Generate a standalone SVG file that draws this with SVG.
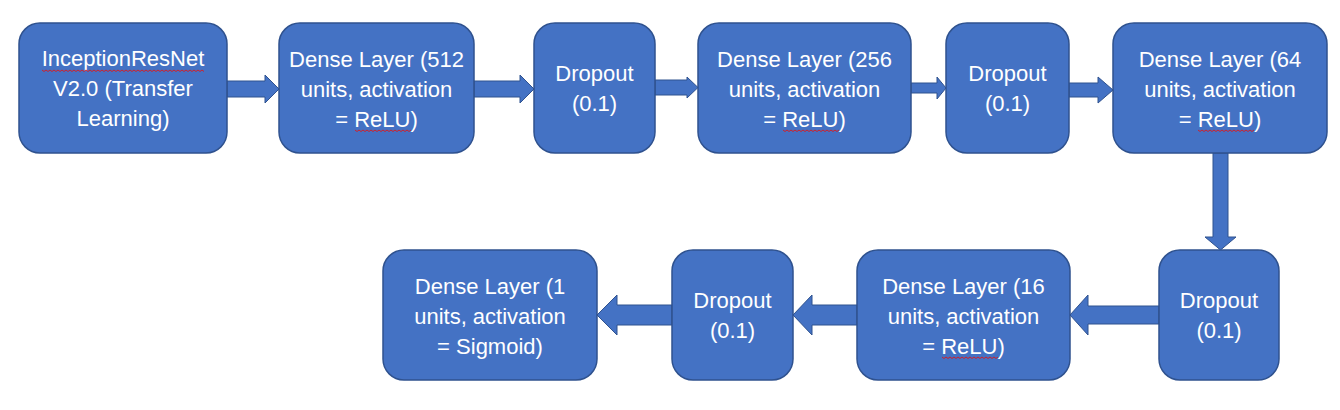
<svg xmlns="http://www.w3.org/2000/svg" width="1340" height="410" viewBox="0 0 1340 410">
  <defs>
    <style>
      .box { fill: #4472C4; stroke: #2F528F; stroke-width: 1.5; }
      .arrow { fill: #4472C4; stroke: #2F528F; stroke-width: 1; }
      .lbl { fill: #FFFFFF; font-family: "Liberation Sans", Arial, sans-serif; font-size: 22px; text-anchor: middle; }
      .sq { fill: none; stroke: #D0202A; stroke-width: 1; }
    </style>
  </defs>
  <rect width="1340" height="410" fill="#FFFFFF"/>

  <g id="connectors">
    <polygon class="arrow" points="227,81 265,81 265,75 279,89 265,103 265,97 227,97"/>
    <polygon class="arrow" points="474,81 520,81 520,75 534,89 520,103 520,97 474,97"/>
    <polygon class="arrow" points="655,80 687,80 687,77 698,87.5 687,98 687,95 655,95"/>
    <polygon class="arrow" points="911,83 937,83 937,77 946,88 937,99 937,93 911,93"/>
    <polygon class="arrow" points="1069,83 1098,83 1098,77 1113,90 1098,103 1098,97 1069,97"/>
    <polygon class="arrow" points="1213,153 1228,153 1228,237 1236,237 1220.5,250 1205,237 1213,237"/>
    <polygon class="arrow" points="1159,306 1088,306 1088,295 1070,315 1088,335 1088,324 1159,324"/>
    <polygon class="arrow" points="857,305 812,305 812,295 793,315 812,335 812,325 857,325"/>
    <polygon class="arrow" points="672,305 617,305 617,295 597,315 617,335 617,325 672,325"/>
  </g>

  <g id="n1">
    <rect class="box" x="19" y="23" width="208" height="130" rx="21"/>
    <text class="lbl" x="123" y="66">InceptionResNet</text>
    <text class="lbl" x="123" y="96">V2.0 (Transfer</text>
    <text class="lbl" x="123" y="126">Learning)</text>
    <path class="sq" d="M42,70 l2,1.5 l2,-1.5 l2,1.5 l2,-1.5 l2,1.5 l2,-1.5 l2,1.5 l2,-1.5 l2,1.5 l2,-1.5 l2,1.5 l2,-1.5 l2,1.5 l2,-1.5 l2,1.5 l2,-1.5 l2,1.5 l2,-1.5 l2,1.5 l2,-1.5 l2,1.5 l2,-1.5 l2,1.5 l2,-1.5 l2,1.5 l2,-1.5 l2,1.5 l2,-1.5 l2,1.5 l2,-1.5 l2,1.5 l2,-1.5 l2,1.5 l2,-1.5 l2,1.5 l2,-1.5 l2,1.5 l2,-1.5 l2,1.5 l2,-1.5 l2,1.5 l2,-1.5 l2,1.5 l2,-1.5 l2,1.5 l2,-1.5 l2,1.5 l2,-1.5 l2,1.5 l2,-1.5 l2,1.5 l2,-1.5 l2,1.5 l2,-1.5 l2,1.5 l2,-1.5 l2,1.5 l2,-1.5 l2,1.5 l2,-1.5 l2,1.5 l2,-1.5 l2,1.5 l2,-1.5 l2,1.5 l2,-1.5 l2,1.5 l2,-1.5 l2,1.5 l2,-1.5 l2,1.5 l2,-1.5 l2,1.5 l2,-1.5 l2,1.5 l2,-1.5 l2,1.5 l2,-1.5 l2,1.5 l2,-1.5 l2,1.5"/>
  </g>

  <g id="n2">
    <rect class="box" x="279" y="23" width="195" height="130" rx="21"/>
    <text class="lbl" x="376.5" y="67">Dense Layer (512</text>
    <text class="lbl" x="376.5" y="97">units, activation</text>
    <text class="lbl" x="376.5" y="127">= ReLU)</text>
    <path class="sq" d="M355,130 l2,1.5 l2,-1.5 l2,1.5 l2,-1.5 l2,1.5 l2,-1.5 l2,1.5 l2,-1.5 l2,1.5 l2,-1.5 l2,1.5 l2,-1.5 l2,1.5 l2,-1.5 l2,1.5 l2,-1.5 l2,1.5 l2,-1.5 l2,1.5 l2,-1.5 l2,1.5 l2,-1.5 l2,1.5 l2,-1.5 l2,1.5 l2,-1.5 l2,1.5 l2,-1.5"/>
  </g>

  <g id="n3">
    <rect class="box" x="534" y="23" width="121" height="130" rx="21"/>
    <text class="lbl" x="594.5" y="81">Dropout</text>
    <text class="lbl" x="594.5" y="111">(0.1)</text>
  </g>

  <g id="n4">
    <rect class="box" x="698" y="23" width="213" height="130" rx="21"/>
    <text class="lbl" x="804.5" y="67">Dense Layer (256</text>
    <text class="lbl" x="804.5" y="97">units, activation</text>
    <text class="lbl" x="804.5" y="127">= ReLU)</text>
    <path class="sq" d="M783,130 l2,1.5 l2,-1.5 l2,1.5 l2,-1.5 l2,1.5 l2,-1.5 l2,1.5 l2,-1.5 l2,1.5 l2,-1.5 l2,1.5 l2,-1.5 l2,1.5 l2,-1.5 l2,1.5 l2,-1.5 l2,1.5 l2,-1.5 l2,1.5 l2,-1.5 l2,1.5 l2,-1.5 l2,1.5 l2,-1.5 l2,1.5 l2,-1.5 l2,1.5 l2,-1.5"/>
  </g>

  <g id="n5">
    <rect class="box" x="946" y="23" width="123" height="130" rx="21"/>
    <text class="lbl" x="1007.5" y="81">Dropout</text>
    <text class="lbl" x="1007.5" y="111">(0.1)</text>
  </g>

  <g id="n6">
    <rect class="box" x="1113" y="23" width="214" height="130" rx="21"/>
    <text class="lbl" x="1220" y="67">Dense Layer (64</text>
    <text class="lbl" x="1220" y="97">units, activation</text>
    <text class="lbl" x="1220" y="127">= ReLU)</text>
    <path class="sq" d="M1198,130 l2,1.5 l2,-1.5 l2,1.5 l2,-1.5 l2,1.5 l2,-1.5 l2,1.5 l2,-1.5 l2,1.5 l2,-1.5 l2,1.5 l2,-1.5 l2,1.5 l2,-1.5 l2,1.5 l2,-1.5 l2,1.5 l2,-1.5 l2,1.5 l2,-1.5 l2,1.5 l2,-1.5 l2,1.5 l2,-1.5 l2,1.5 l2,-1.5 l2,1.5 l2,-1.5"/>
  </g>

  <g id="n7">
    <rect class="box" x="1159" y="250" width="120" height="130" rx="21"/>
    <text class="lbl" x="1219" y="308">Dropout</text>
    <text class="lbl" x="1219" y="338">(0.1)</text>
  </g>

  <g id="n8">
    <rect class="box" x="857" y="250" width="213" height="130" rx="21"/>
    <text class="lbl" x="963.5" y="294">Dense Layer (16</text>
    <text class="lbl" x="963.5" y="324">units, activation</text>
    <text class="lbl" x="963.5" y="354">= ReLU)</text>
    <path class="sq" d="M942,357 l2,1.5 l2,-1.5 l2,1.5 l2,-1.5 l2,1.5 l2,-1.5 l2,1.5 l2,-1.5 l2,1.5 l2,-1.5 l2,1.5 l2,-1.5 l2,1.5 l2,-1.5 l2,1.5 l2,-1.5 l2,1.5 l2,-1.5 l2,1.5 l2,-1.5 l2,1.5 l2,-1.5 l2,1.5 l2,-1.5 l2,1.5 l2,-1.5 l2,1.5 l2,-1.5"/>
  </g>

  <g id="n9">
    <rect class="box" x="672" y="250" width="121" height="130" rx="21"/>
    <text class="lbl" x="732.5" y="308">Dropout</text>
    <text class="lbl" x="732.5" y="338">(0.1)</text>
  </g>

  <g id="n10">
    <rect class="box" x="383" y="250" width="214" height="130" rx="21"/>
    <text class="lbl" x="490" y="294">Dense Layer (1</text>
    <text class="lbl" x="490" y="324">units, activation</text>
    <text class="lbl" x="490" y="354">= Sigmoid)</text>
  </g>
</svg>
